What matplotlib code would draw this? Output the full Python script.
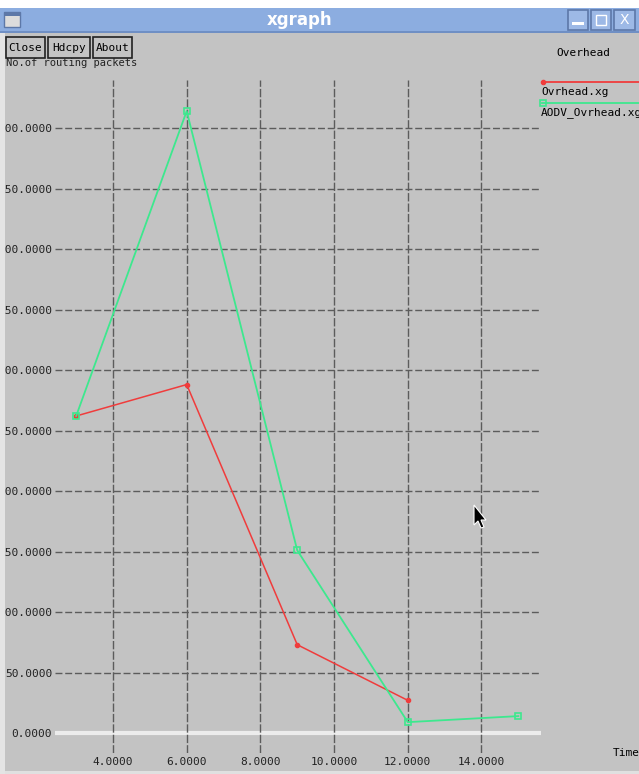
import matplotlib
matplotlib.use("Agg")
from matplotlib import pyplot as plt
from matplotlib.patches import Rectangle, Polygon
from matplotlib.lines import Line2D

# data
ovr_x = [3, 6, 9, 12]
ovr_y = [262, 288, 73, 27]
aodv_x = [3, 6, 9, 12, 15]
aodv_y = [262, 514, 151, 9, 14]
xticks = [4, 6, 8, 10, 12, 14]
yticks = [0, 50, 100, 150, 200, 250, 300, 350, 400, 450, 500]
series_names = ["Ovrhead.xg", "AODV_Ovrhead.xg"]

W, H = 639, 774
GRAY = "#c3c3c3"
RED = "#f03c3c"
GREEN = "#3de88e"
MONO = "DejaVu Sans Mono"

fig = plt.figure(figsize=(W / 100, H / 100), dpi=100)
fig.patch.set_facecolor(GRAY)

def fx(px):
    return px / W

def fy(py):
    return 1 - py / H

def box(x0, y0, x1, y1, **kw):
    r = Rectangle((fx(x0), fy(y1)), fx(x1) - fx(x0), fy(y0) - fy(y1),
                  transform=fig.transFigure, **kw)
    fig.patches.append(r)
    return r

# window frame / title bar
box(0, 0, W, 8, facecolor="white", edgecolor="none")
box(0, 8, W, 32, facecolor="#8cade0", edgecolor="none")
box(0, 31, W, 33, facecolor="#6f8fc4", edgecolor="none")
box(0, 771, W, H, facecolor="#e0e0e0", edgecolor="none")
box(0, 33, 5, H, facecolor="#e4e4e4", edgecolor="none")
fig.text(fx(300), fy(20), "xgraph", color="white", fontsize=12,
         fontweight="bold", ha="center", va="center")
box(4, 12, 20, 27, facecolor="#dcdcdc", edgecolor="#5d78a8", lw=1)
box(4, 12, 20, 16, facecolor="#5d78a8", edgecolor="none")
for bx0, bx1 in [(568, 588), (591, 611), (614, 635)]:
    box(bx0, 10, bx1, 30, facecolor="#9db9e6", edgecolor="#5d78a8", lw=1.2)
box(572, 22, 584, 25, facecolor="white", edgecolor="none")
box(596, 15, 606, 25, facecolor="none", edgecolor="white", lw=1)
fig.text(fx(624.5), fy(20), "X", color="white", fontsize=10,
         ha="center", va="center")

# axis title behind the buttons
fig.text(fx(6), fy(63), "No.of routing packets", fontsize=7.5,
         family=MONO, ha="left", va="center", color="#222222")
for lab, bx0, bx1 in [("Close", 6, 45), ("Hdcpy", 48, 90), ("About", 93, 132)]:
    box(bx0, 37, bx1, 58, facecolor=GRAY, edgecolor="#222222", lw=1.2, zorder=3)
    fig.text(fx((bx0 + bx1) / 2), fy(48), lab, fontsize=8, family=MONO,
             ha="center", va="center", zorder=4)

# plot area
ax = fig.add_axes([fx(55), fy(753), fx(541) - fx(55), fy(80) - fy(753)])
ax.set_facecolor("none")
ax.set_xlim(2.426, 15.615)
ax.set_ylim(-16.5, 539.7)
for s in ax.spines.values():
    s.set_visible(False)

for yv in yticks:
    if yv == 0:
        ax.axhline(yv, color="#ececec", lw=3, zorder=1)
    else:
        ax.axhline(yv, color="#5c5c5c", lw=1.0, dashes=(5, 2), zorder=1)
for xv in xticks:
    ax.axvline(xv, color="#5c5c5c", lw=1.0, dashes=(6, 1.5), zorder=2)

ax.set_xticks(xticks)
ax.set_xticklabels(["%.4f" % v for v in xticks])
ax.set_yticks(yticks)
ax.set_yticklabels(["%.4f" % v for v in yticks])
ax.tick_params(length=0, labelsize=8, colors="#222222")
ax.tick_params(axis="y", pad=2)
ax.tick_params(axis="x", pad=3)
for t in ax.get_xticklabels() + ax.get_yticklabels():
    t.set_family(MONO)

ax.plot(ovr_x, ovr_y, color=RED, lw=1.1, marker="o", ms=3,
        mec=RED, mfc=RED, zorder=4)
ax.plot(aodv_x, aodv_y, color=GREEN, lw=1.3, marker="s", ms=4,
        mec=GREEN, mfc="none", mew=1.2, zorder=5, clip_on=False)

# legend on the right
fig.text(fx(583), fy(53), "Overhead", fontsize=8, family=MONO,
         ha="center", va="center")
fig.lines.append(Line2D([fx(542), fx(W)], [fy(82), fy(82)], color=RED, lw=1.3,
                        transform=fig.transFigure))
fig.lines.append(Line2D([fx(543)], [fy(82)], color=RED, marker="o", ms=3,
                        transform=fig.transFigure))
fig.text(fx(541), fy(92), series_names[0], fontsize=8, family=MONO,
         ha="left", va="center")
fig.lines.append(Line2D([fx(542), fx(W)], [fy(103), fy(103)], color=GREEN, lw=1.3,
                        transform=fig.transFigure))
fig.lines.append(Line2D([fx(543)], [fy(103)], color=GREEN, marker="s", ms=4,
                        mfc="none", mew=1.2, transform=fig.transFigure))
fig.text(fx(541), fy(113), series_names[1], fontsize=8, family=MONO,
         ha="left", va="center")

fig.text(fx(613), fy(753), "Time", fontsize=8, family=MONO,
         ha="left", va="center")

# mouse pointer left in the screenshot
cur = [(474, 505), (474, 525), (478, 521), (481, 528), (484, 527),
       (481, 520), (486, 520)]
fig.patches.append(Polygon([(fx(a), fy(b)) for a, b in cur], closed=True,
                           facecolor="black", edgecolor="white", lw=0.8,
                           transform=fig.transFigure, zorder=6))

fig.savefig("out.png", dpi=100, facecolor=fig.get_facecolor())
